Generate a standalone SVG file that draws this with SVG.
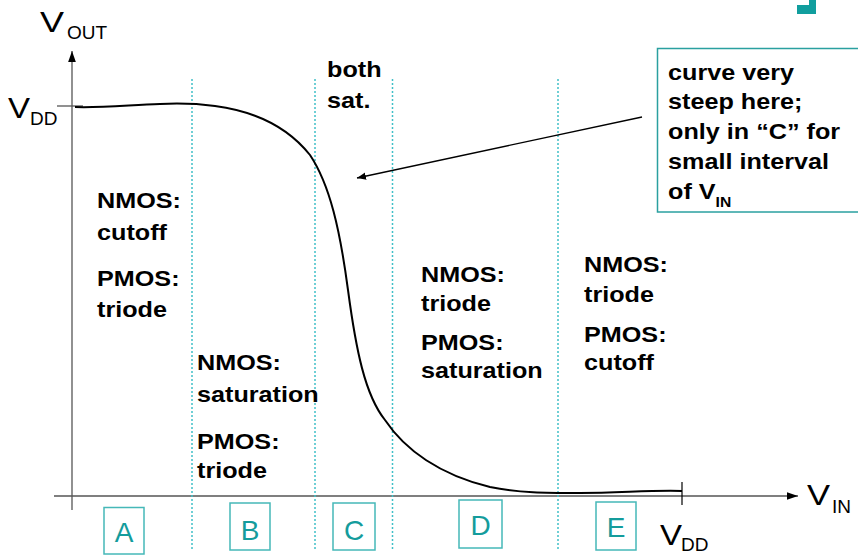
<svg xmlns="http://www.w3.org/2000/svg" width="858" height="555" viewBox="0 0 858 555">
<defs>
<style>
.b{font-family:"Liberation Sans",Arial,sans-serif;font-weight:bold;font-size:22.5px;fill:#000}
.r{font-family:"Liberation Sans",Arial,sans-serif;font-size:30px;fill:#000}
.s{font-family:"Liberation Sans",Arial,sans-serif;font-size:19px;fill:#000}
.lt{font-family:"Liberation Sans",Arial,sans-serif;font-size:28px;fill:#149c9c;text-anchor:middle}
.lb{fill:none;stroke:#45b8b8;stroke-width:1.5}
.dot{stroke:#40c0c8;stroke-width:1.5;stroke-dasharray:2 2;fill:none}
.ax{stroke:#555;stroke-width:1.3;fill:none}
</style>
<marker id="ah" viewBox="0 0 10 10" refX="10" refY="5" markerWidth="9" markerHeight="9" markerUnits="userSpaceOnUse" orient="auto">
<path d="M0,1 L10,5 L0,9 z" fill="#000"/>
</marker>
<marker id="axh" viewBox="0 0 10 10" refX="10" refY="5" markerWidth="11" markerHeight="11" markerUnits="userSpaceOnUse" orient="auto">
<path d="M0,1.5 L10,5 L0,8.5 z" fill="#000"/>
</marker>
</defs>
<rect width="858" height="555" fill="#fff"/>
<path d="M797,5 H816 V14 H797 Z M809,0 H816 V5 H809 Z" fill="#119e9e"/>
<g id="axes">
<line class="ax" x1="72" y1="510" x2="72" y2="51" marker-end="url(#axh)" stroke="#333"/>
<line class="ax" x1="54" y1="496" x2="798" y2="496" marker-end="url(#axh)"/>
<line class="ax" x1="57" y1="106" x2="83" y2="106"/>
<line x1="682" y1="482" x2="682" y2="505" stroke="#000" stroke-width="1.2"/>
<text class="r" transform="translate(40,32) scale(1.2 1)">V</text><text class="s" x="67" y="39">OUT</text>
<text class="r" transform="translate(8,118) scale(1.1 1)">V</text><text class="s" x="30" y="125">DD</text>
<text class="r" transform="translate(807,505) scale(1.15 1)">V</text><text class="s" x="832" y="513">IN</text>
<text class="r" transform="translate(660,545) scale(1.1 1)">V</text><text class="s" x="681" y="551">DD</text>
</g>
<g id="dividers">
<line class="dot" x1="192" y1="79" x2="192" y2="549"/>
<line class="dot" x1="315" y1="79" x2="315" y2="549"/>
<line class="dot" x1="392.5" y1="79" x2="392.5" y2="549"/>
<line class="dot" x1="558" y1="79" x2="558" y2="549"/>
</g>
<g id="curve">
<path d="M75,107 C100,108 130,105 160,104 C180,103 200,104 215,106 C260,112 290,130 310,155 C330,185 340,230 348,290 C356,350 365,395 385,420 C405,450 440,475 490,487 C520,493 545,493 580,493 C620,493 650,490 682,491" fill="none" stroke="#000" stroke-width="2"/>
</g>
<g id="regionA">
<text class="b" transform="translate(97,0) scale(1.12 1)"><tspan x="0" y="208">NMOS:</tspan><tspan x="0" y="240">cutoff</tspan><tspan x="0" y="286">PMOS:</tspan><tspan x="0" y="317">triode</tspan></text>
</g>
<g id="regionB">
<text class="b" transform="translate(197,0) scale(1.12 1)"><tspan x="0" y="370">NMOS:</tspan><tspan x="0" y="402">saturation</tspan><tspan x="0" y="449">PMOS:</tspan><tspan x="0" y="478">triode</tspan></text>
</g>
<g id="regionC">
<text class="b" transform="translate(327,0) scale(1.12 1)"><tspan x="0" y="77">both</tspan><tspan x="0" y="108">sat.</tspan></text>
</g>
<g id="regionD">
<text class="b" transform="translate(421,0) scale(1.12 1)"><tspan x="0" y="282">NMOS:</tspan><tspan x="0" y="311">triode</tspan><tspan x="0" y="350">PMOS:</tspan><tspan x="0" y="378">saturation</tspan></text>
</g>
<g id="regionE">
<text class="b" transform="translate(584,0) scale(1.12 1)"><tspan x="0" y="272">NMOS:</tspan><tspan x="0" y="302">triode</tspan><tspan x="0" y="342">PMOS:</tspan><tspan x="0" y="370">cutoff</tspan></text>
</g>
<g id="note">
<rect x="657.5" y="48.5" width="215" height="163.5" fill="#fff" stroke="#2aa0a0" stroke-width="1.5"/>
<text class="b" transform="translate(668,0) scale(1.12 1)"><tspan x="0" y="80">curve very</tspan><tspan x="0" y="109">steep here;</tspan><tspan x="0" y="139">only in “C” for</tspan><tspan x="0" y="169">small interval</tspan><tspan x="0" y="199">of V<tspan font-size="14" dy="8">IN</tspan></tspan></text>
</g>
<g id="connectors">
<line x1="642" y1="117" x2="357" y2="178" stroke="#000" stroke-width="1.3" marker-end="url(#ah)"/>
</g>
<g id="labelA"><rect class="lb" x="104" y="507.5" width="40" height="46.5"/><text class="lt" x="124" y="542">A</text></g>
<g id="labelB"><rect class="lb" x="230" y="503" width="40" height="47"/><text class="lt" x="250" y="540">B</text></g>
<g id="labelC"><rect class="lb" x="333" y="503" width="42" height="47"/><text class="lt" x="354" y="540">C</text></g>
<g id="labelD"><rect class="lb" x="459" y="500" width="43" height="48"/><text class="lt" x="480.5" y="535">D</text></g>
<g id="labelE"><rect class="lb" x="596" y="502" width="40" height="48"/><text class="lt" x="616" y="537">E</text></g>
</svg>
